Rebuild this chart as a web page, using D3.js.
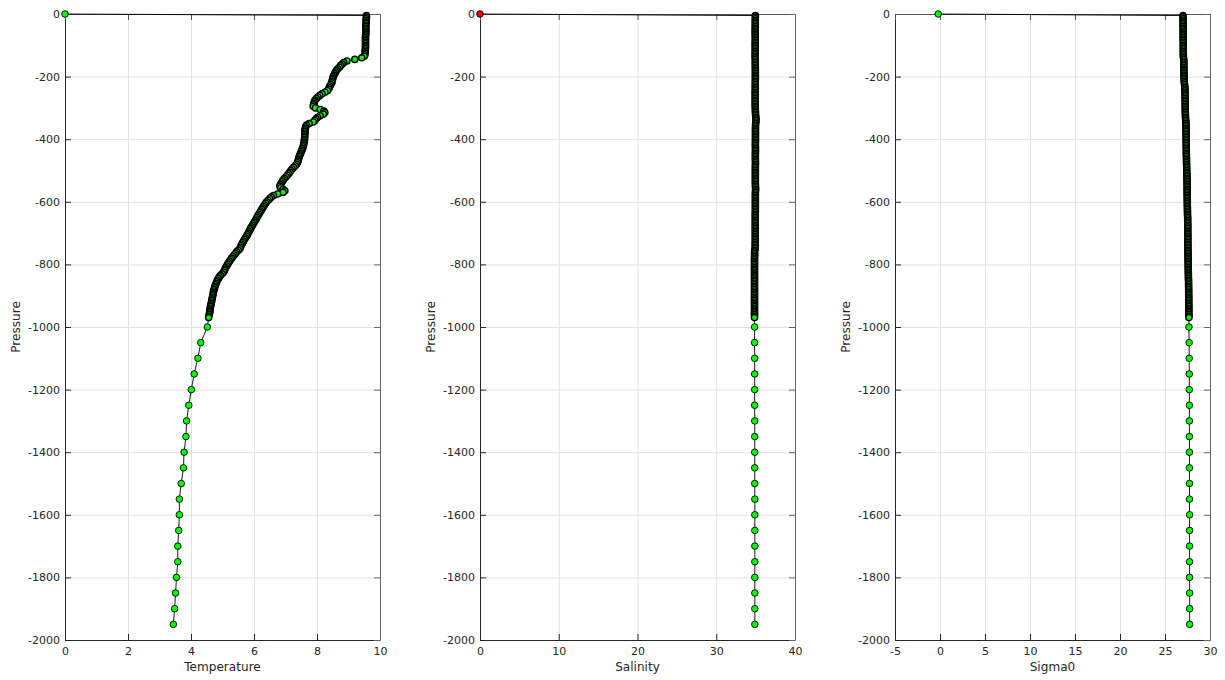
<!DOCTYPE html>
<html><head><meta charset="utf-8">
<script src="https://cdn.jsdelivr.net/npm/d3@7"></script>
<style>body{margin:0;background:#fff}svg{display:block}</style>
</head><body><svg id="c" width="1225" height="680"></svg>
<script>
// ---------- data ----------
const pressureSurface = [0];
const tempSurface = [0];
const salSurface = [0];
const sigmaSurface = [-0.2];

const pressureProfile = [
-5,-10,-15,-20,-25,-30,-35,-40,-45,-50,
-55,-60,-65,-70,-75,-80,-85,-90,-95,-100,
-105,-110,-115,-120,-125,-130,-135,-140,-145,-150,
-155,-160,-165,-170,-175,-180,-185,-190,-195,-200,
-205,-210,-215,-220,-225,-230,-235,-240,-245,-250,
-255,-260,-265,-270,-275,-280,-285,-290,-295,-300,
-305,-310,-315,-320,-325,-330,-335,-340,-345,-350,
-355,-360,-365,-370,-375,-380,-385,-390,-395,-400,
-405,-410,-415,-420,-425,-430,-435,-440,-445,-450,
-455,-460,-465,-470,-475,-480,-485,-490,-495,-500,
-505,-510,-515,-520,-525,-530,-535,-540,-545,-550,
-555,-560,-565,-570,-575,-580,-585,-590,-595,-600,
-605,-610,-615,-620,-625,-630,-635,-640,-645,-650,
-655,-660,-665,-670,-675,-680,-685,-690,-695,-700,
-705,-710,-715,-720,-725,-730,-735,-740,-745,-750,
-755,-760,-765,-770,-775,-780,-785,-790,-795,-800,
-805,-810,-815,-820,-825,-830,-835,-840,-845,-850,
-855,-860,-865,-870,-875,-880,-885,-890,-895,-900,
-905,-910,-915,-920,-925,-930,-935,-940,-945,-950,
-955,-960,-965,-970];

const tempProfile = [
9.57,9.57,9.56,9.56,9.56,9.56,9.55,9.55,9.55,9.55,
9.55,9.55,9.55,9.54,9.54,9.54,9.54,9.54,9.54,9.54,
9.54,9.54,9.53,9.53,9.53,9.52,9.5,9.42,9.2,8.95,
8.85,8.8,8.75,8.71,8.66,8.62,8.59,8.56,8.54,8.52,
8.5,8.49,8.48,8.47,8.44,8.41,8.39,8.37,8.33,8.25,
8.16,8.09,8.03,7.98,7.94,7.92,7.9,7.89,7.88,7.95,
8.1,8.22,8.25,8.2,8.1,8.02,7.97,7.93,7.88,7.75,
7.67,7.64,7.63,7.62,7.62,7.62,7.61,7.61,7.61,7.6,
7.6,7.59,7.58,7.57,7.56,7.54,7.52,7.5,7.48,7.46,
7.44,7.42,7.41,7.4,7.38,7.35,7.31,7.26,7.21,7.17,
7.14,7.1,7.06,7.02,6.97,6.93,6.9,6.87,6.84,6.82,
6.85,6.92,6.98,6.92,6.75,6.62,6.55,6.5,6.45,6.4,
6.37,6.33,6.3,6.27,6.24,6.21,6.18,6.15,6.12,6.09,
6.07,6.04,6.01,5.98,5.95,5.92,5.89,5.87,5.84,5.82,
5.79,5.76,5.73,5.7,5.67,5.64,5.62,5.59,5.57,5.55,
5.5,5.45,5.41,5.37,5.33,5.29,5.26,5.22,5.19,5.16,
5.13,5.1,5.08,5.06,5.03,4.99,4.94,4.9,4.87,4.84,
4.82,4.8,4.78,4.76,4.75,4.73,4.72,4.71,4.7,4.69,
4.68,4.67,4.66,4.65,4.64,4.63,4.62,4.61,4.6,4.6,
4.59,4.58,4.57,4.56];

const salProfile = [
34.97,34.97,34.96,34.96,34.96,34.96,34.96,34.96,34.95,34.95,
34.95,34.95,34.95,34.96,34.96,34.96,34.96,34.95,34.95,34.95,
34.95,34.95,34.95,34.95,34.95,34.94,34.94,34.95,34.96,34.96,
34.96,34.96,34.96,34.97,34.97,34.97,34.97,34.97,34.97,34.97,
34.97,34.97,34.96,34.96,34.96,34.96,34.96,34.96,34.95,34.95,
34.95,34.95,34.95,34.95,34.95,34.95,34.95,34.95,34.95,34.96,
34.97,34.97,34.98,34.99,35.0,35.02,35.05,35.05,35.03,35.0,
34.99,34.99,34.98,34.98,34.98,34.98,34.98,34.98,34.98,34.98,
34.98,34.98,34.97,34.97,34.98,34.98,34.98,34.98,34.97,34.97,
34.97,34.97,34.97,34.98,34.98,34.98,34.97,34.97,34.97,34.97,
34.97,34.97,34.97,34.97,34.97,34.97,34.97,34.97,34.97,34.98,
34.99,35.0,34.99,34.97,34.97,34.97,34.97,34.97,34.97,34.97,
34.97,34.97,34.97,34.97,34.97,34.97,34.96,34.96,34.96,34.96,
34.96,34.96,34.96,34.96,34.96,34.96,34.96,34.96,34.96,34.96,
34.96,34.96,34.96,34.96,34.96,34.95,34.95,34.95,34.95,34.95,
34.88,34.87,34.87,34.87,34.87,34.86,34.86,34.86,34.86,34.86,
34.86,34.86,34.86,34.86,34.86,34.86,34.86,34.86,34.86,34.86,
34.86,34.86,34.86,34.86,34.86,34.86,34.86,34.86,34.86,34.86,
34.86,34.86,34.86,34.86,34.86,34.86,34.86,34.86,34.86,34.86,
34.86,34.86,34.86,34.86];

const sigmaProfile = [
27.0,27.0,27.01,27.01,27.01,27.01,27.01,27.01,27.02,27.02,
27.02,27.02,27.02,27.02,27.02,27.02,27.02,27.03,27.03,27.03,
27.03,27.03,27.03,27.03,27.03,27.04,27.04,27.05,27.08,27.09,
27.09,27.09,27.1,27.1,27.1,27.1,27.11,27.11,27.11,27.12,
27.12,27.13,27.14,27.15,27.17,27.19,27.21,27.22,27.22,27.23,
27.23,27.23,27.24,27.24,27.24,27.24,27.25,27.25,27.25,27.25,
27.25,27.26,27.26,27.27,27.27,27.28,27.29,27.3,27.32,27.33,
27.33,27.33,27.34,27.34,27.34,27.34,27.35,27.35,27.35,27.35,
27.35,27.36,27.36,27.36,27.36,27.37,27.37,27.37,27.37,27.38,
27.38,27.38,27.39,27.39,27.39,27.4,27.4,27.41,27.41,27.42,
27.42,27.43,27.44,27.44,27.45,27.45,27.45,27.45,27.46,27.46,
27.46,27.46,27.46,27.47,27.47,27.47,27.47,27.47,27.48,27.48,
27.48,27.48,27.49,27.49,27.49,27.5,27.5,27.5,27.51,27.52,
27.52,27.52,27.52,27.53,27.53,27.53,27.53,27.53,27.53,27.53,
27.54,27.54,27.54,27.54,27.54,27.54,27.55,27.55,27.55,27.55,
27.55,27.56,27.56,27.56,27.56,27.57,27.57,27.57,27.57,27.58,
27.58,27.58,27.59,27.59,27.59,27.6,27.6,27.6,27.61,27.61,
27.62,27.62,27.62,27.62,27.63,27.63,27.63,27.63,27.63,27.64,
27.64,27.64,27.64,27.64,27.64,27.65,27.65,27.65,27.65,27.65,
27.65,27.65,27.66,27.66];

const pressureDeep = [-1000,-1050,-1100,-1150,-1200,-1250,-1300,-1350,-1400,-1450,
  -1500,-1550,-1600,-1650,-1700,-1750,-1800,-1850,-1900,-1950];
const tempDeep = [4.52,4.31,4.22,4.10,4.01,3.93,3.86,3.84,3.78,3.76,
  3.69,3.63,3.63,3.61,3.58,3.58,3.54,3.51,3.48,3.44];
const salDeep = [34.87,34.87,34.88,34.88,34.88,34.88,34.89,34.89,34.89,34.89,
  34.89,34.9,34.9,34.9,34.9,34.9,34.9,34.9,34.9,34.9];
const sigmaDeep = [27.66,27.68,27.69,27.7,27.7,27.71,27.71,27.71,27.72,27.72,
  27.72,27.72,27.73,27.73,27.73,27.73,27.73,27.74,27.74,27.74];

const pressureTicks = [0,-200,-400,-600,-800,-1000,-1200,-1400,-1600,-1800,-2000];
const tempTicks = [0,2,4,6,8,10];
const salTicks = [0,10,20,30,40];
const sigmaTicks = [-5,0,5,10,15,20,25,30];
const pressureLabel = "Pressure";

// ---------- drawing ----------
const W = 315, H = 626, TOP = 14;
const FONT = "'DejaVu Sans', sans-serif";
const INK = "#262626";
const zip = (ps, vs) => ps.map((p, i) => ({p, v: vs[i]}));

const panels = [
  {left: 65, domain: [0, 10], ticks: tempTicks, label: "Temperature",
   surface: zip(pressureSurface, tempSurface), dense: zip(pressureProfile, tempProfile), deep: zip(pressureDeep, tempDeep), surfaceFill: "#00ff00"},
  {left: 480, domain: [0, 40], ticks: salTicks, label: "Salinity",
   surface: zip(pressureSurface, salSurface), dense: zip(pressureProfile, salProfile), deep: zip(pressureDeep, salDeep), surfaceFill: "#ff0000"},
  {left: 895, domain: [-5, 30], ticks: sigmaTicks, label: "Sigma0",
   surface: zip(pressureSurface, sigmaSurface), dense: zip(pressureProfile, sigmaProfile), deep: zip(pressureDeep, sigmaDeep), surfaceFill: "#00ff00"}
];

const svg = d3.select("#c");
svg.append("rect").attr("width", 1225).attr("height", 680).attr("fill", "#fff");
const y = d3.scaleLinear().domain([0, -2000]).range([0, H]);
const fmt = d => String(d);

panels.forEach(p => {
  const g = svg.append("g").attr("transform", `translate(${p.left},${TOP})`);
  const x = d3.scaleLinear().domain(p.domain).range([0, W]);

  // grid
  g.append("g").selectAll("line").data(p.ticks).join("line")
    .attr("x1", d => x(d) + 0.5).attr("x2", d => x(d) + 0.5)
    .attr("y1", 0).attr("y2", H).attr("stroke", "#e1e1e1").attr("stroke-width", 1);
  g.append("g").selectAll("line").data(pressureTicks).join("line")
    .attr("y1", d => y(d) + 0.5).attr("y2", d => y(d) + 0.5)
    .attr("x1", 0).attr("x2", W).attr("stroke", "#e1e1e1").attr("stroke-width", 1);

  const style = sel => sel.attr("color", INK).attr("font-family", FONT).attr("font-size", 11);

  // axes (inward ticks on all four sides)
  g.append("g").attr("transform", `translate(0,${H})`)
    .call(d3.axisBottom(x).tickValues(p.ticks).tickSizeInner(-6).tickSizeOuter(0).tickPadding(7).tickFormat(fmt))
    .call(style);
  g.append("g")
    .call(d3.axisLeft(y).tickValues(pressureTicks).tickSizeInner(-6).tickSizeOuter(0).tickPadding(5).tickFormat(fmt))
    .call(style);
  g.append("g")
    .call(d3.axisTop(x).tickValues(p.ticks).tickSizeInner(-6).tickSizeOuter(0).tickFormat(""))
    .call(style).attr("color", "#555");
  g.append("g").attr("transform", `translate(${W},0)`)
    .call(d3.axisRight(y).tickValues(pressureTicks).tickSizeInner(-6).tickSizeOuter(0).tickFormat(""))
    .call(style).attr("color", "#666");

  // axis labels
  g.append("text").attr("x", W / 2).attr("y", H + 31).attr("text-anchor", "middle")
    .attr("font-family", FONT).attr("font-size", 12.1).attr("fill", INK).text(p.label);
  g.append("text").attr("transform", `translate(-45,${H / 2}) rotate(-90)`).attr("text-anchor", "middle")
    .attr("font-family", FONT).attr("font-size", 12.1).attr("fill", INK).text(pressureLabel);

  // profile line
  const all = p.surface.concat(p.dense, p.deep);
  g.append("path").attr("d", d3.line().x(d => x(d.v)).y(d => y(d.p))(all))
    .attr("fill", "none").attr("stroke", "#000").attr("stroke-width", 0.9);

  // dense CTD markers (heavily overlapping, edges dominate)
  g.append("g").selectAll("circle").data(p.dense).join("circle")
    .attr("cx", d => x(d.v)).attr("cy", d => y(d.p)).attr("r", 3.1)
    .attr("fill", "#00ff00").attr("stroke", "#000").attr("stroke-width", 1.4);
  // deep sparse markers
  g.append("g").selectAll("circle").data(p.deep).join("circle")
    .attr("cx", d => x(d.v)).attr("cy", d => y(d.p)).attr("r", 3.3)
    .attr("fill", "#00ff00").attr("stroke", "#000").attr("stroke-width", 0.9);
  // surface marker
  g.append("g").selectAll("circle").data(p.surface).join("circle")
    .attr("cx", d => x(d.v)).attr("cy", d => y(d.p)).attr("r", 3.3)
    .attr("fill", p.surfaceFill).attr("stroke", "#000").attr("stroke-width", 0.9);
});
</script>
</body></html>
